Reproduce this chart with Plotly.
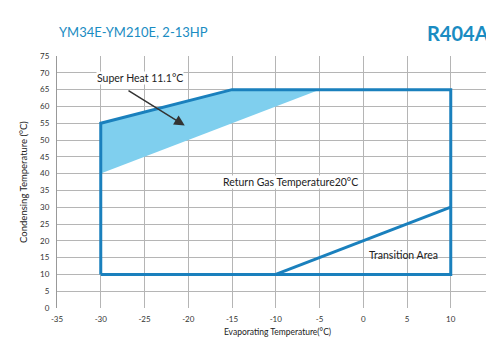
import plotly.graph_objects as go

# Envelope (operating limits)
env_x = [-30, -30, -15, 10, 10, -30]
env_y = [10, 55, 65, 65, 10, 10]
# Super heat shaded area
sh_x = [-30, -30, -15, -5, -30]
sh_y = [40, 55, 65, 65, 40]
# Transition line
tr_x = [-10, 10]
tr_y = [10, 30]

x_ticks = [-35, -30, -25, -20, -15, -10, -5, 0, 5, 10, 15]
y_ticks = [0, 5, 10, 15, 20, 25, 30, 35, 40, 45, 50, 55, 60, 65, 70, 75]

LINE = "#1a80bd"
FILL = "#7fcfee"
TEAL = "#1a8cc2"

fig = go.Figure()
fig.add_trace(go.Scatter(x=sh_x, y=sh_y, mode="lines", fill="toself",
                         fillcolor=FILL, line=dict(width=0), hoverinfo="skip"))
fig.add_trace(go.Scatter(x=env_x, y=env_y, mode="lines",
                         line=dict(color=LINE, width=3), hoverinfo="skip"))
fig.add_trace(go.Scatter(x=tr_x, y=tr_y, mode="lines",
                         line=dict(color=LINE, width=3), hoverinfo="skip"))

fnt = dict(family="Lato, Open Sans, sans-serif", size=10.5, color="#222")

fig.add_annotation(x=-20.4, y=54.3, ax=-27, ay=65, xref="x", yref="y",
                   axref="x", ayref="y", showarrow=True, arrowhead=2,
                   arrowsize=1.4, arrowwidth=1.5, arrowcolor="#333", text="")
fig.add_annotation(x=-30.6, y=68.4, xref="x", yref="y", text="Super Heat 11.1°C",
                   showarrow=False, xanchor="left", font=fnt, bgcolor="white",
                   borderpad=0)
fig.add_annotation(x=-8.3, y=37.4, xref="x", yref="y", text="Return Gas Temperature20°C",
                   showarrow=False, font=fnt, bgcolor="white", borderpad=0)
fig.add_annotation(x=4.6, y=15.8, xref="x", yref="y", text="Transition Area",
                   showarrow=False, font=fnt)

fig.add_annotation(x=0.0, y=1.055, xref="paper", yref="paper", text="YM34E-YM210E, 2-13HP",
                   showarrow=False, xanchor="left", yanchor="bottom",
                   font=dict(family="Lato, sans-serif", size=13, color=TEAL))
fig.add_annotation(x=0.985, y=1.035, xref="paper", yref="paper", text="<b>R404A</b>",
                   showarrow=False, xanchor="right", yanchor="bottom",
                   font=dict(family="Lato, sans-serif", size=20, color=TEAL))

axis_common = dict(showgrid=True, gridcolor="#b5b5b5", gridwidth=1, zeroline=False,
                   showline=True, linecolor="#999", linewidth=1, mirror=True,
                   ticks="outside", tickcolor="rgba(0,0,0,0)", ticklabeloverflow="allow",
                   tickfont=dict(family="Lato, sans-serif", size=8, color="#333"))

fig.update_xaxes(range=[x_ticks[0], x_ticks[-1] + 0.4], tickvals=x_ticks,
                 ticktext=[str(v) for v in x_ticks],
                 ticklen=3, showline=False,
                 title=dict(text="Evaporating Temperature(°C)", standoff=6,
                            font=dict(family="Lato, sans-serif", size=8.5, color="#222")),
                 **{k: v for k, v in axis_common.items() if k != "showline"})
fig.update_yaxes(range=[y_ticks[0], y_ticks[-1] + 0.01], tickmode="linear",
                 tick0=y_ticks[0], dtick=y_ticks[1] - y_ticks[0],
                 ticklen=5,
                 title=dict(text="Condensing Temperature (°C)", standoff=10,
                            font=dict(family="Lato, sans-serif", size=9.5, color="#222")),
                 **axis_common)

fig.update_layout(width=494, height=338, showlegend=False,
                  margin=dict(l=49, r=4, t=48, b=38),
                  paper_bgcolor="white", plot_bgcolor="white")

fig.write_html("out.html")
